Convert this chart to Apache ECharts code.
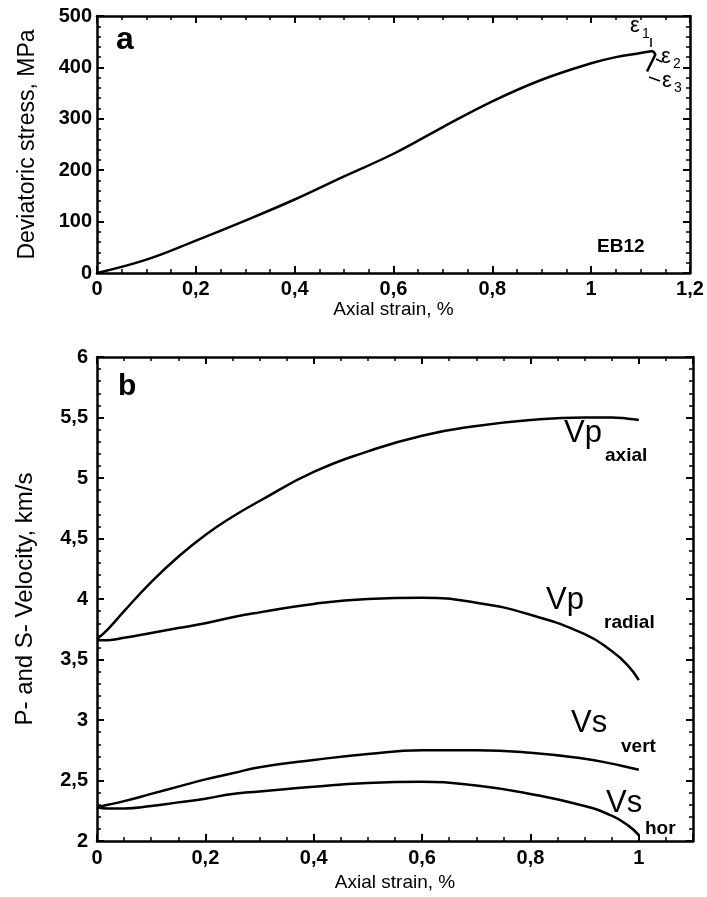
<!DOCTYPE html>
<html>
<head>
<meta charset="utf-8">
<script src="https://cdn.jsdelivr.net/npm/echarts@6/dist/echarts.min.js"></script>
<style>
  html, body { margin: 0; padding: 0; background: #fff; }
  #main { width: 707px; height: 897px; }
</style>
</head>
<body>
<div id="main"></div>
<script>
// panel a: stress-strain curve
var strainA = [0, 0.1, 0.2, 0.3, 0.4, 0.5, 0.6, 0.7, 0.8, 0.9, 1.0, 1.05, 1.1, 1.125];
var stressA = [0, 26, 63, 102, 143, 188, 232, 284, 334, 376, 408, 420, 428, 432];
// little hook after the peak
var hookStrain = [1.125, 1.13, 1.113];
var hookStress = [432, 425, 392];

// panel b: velocities
var strainB  = [0, 0.02, 0.05, 0.1, 0.15, 0.2, 0.25, 0.3, 0.4, 0.5, 0.6, 0.7, 0.8, 0.9, 0.95, 0.98, 1.0];
var vpAxial  = [3.67, 3.75, 3.90, 4.14, 4.35, 4.53, 4.68, 4.81, 5.05, 5.22, 5.35, 5.43, 5.48, 5.50, 5.50, 5.49, 5.48];
var vpRadial = [3.66, 3.66, 3.68, 3.72, 3.76, 3.80, 3.85, 3.89, 3.96, 4.00, 4.01, 3.97, 3.87, 3.71, 3.57, 3.45, 3.33];
var vsVert   = [2.28, 2.30, 2.33, 2.39, 2.45, 2.51, 2.56, 2.61, 2.67, 2.72, 2.75, 2.75, 2.73, 2.68, 2.64, 2.61, 2.59];
var vsHor    = [2.28, 2.27, 2.27, 2.29, 2.32, 2.35, 2.39, 2.41, 2.45, 2.48, 2.49, 2.46, 2.39, 2.29, 2.21, 2.13, 2.05];

function pairs(xs, ys) {
    return xs.map(function (x, i) { return [x, ys[i]]; });
}
function comma(v) {
    return String(+v.toFixed(1)).replace('.', ',');
}

var FONT = 'Liberation Sans, Arial, sans-serif';
var tickLbl = { color: '#000', fontFamily: FONT, fontWeight: 'bold', fontSize: 20 };

function axisBase(pos, min, max, interval, minorSplit, showLabel, margin, gridIndex) {
    return {
        type: 'value', gridIndex: gridIndex, position: pos,
        min: min, max: max, interval: interval,
        axisLine: { show: true, onZero: false, lineStyle: { color: '#000', width: 2.5 } },
        axisTick: { show: true, inside: true, length: 7, lineStyle: { color: '#000', width: 2 } },
        minorTick: { show: true, splitNumber: minorSplit, length: 4, lineStyle: { color: '#000', width: 1.5 } },
        splitLine: { show: false },
        axisLabel: Object.assign({ show: showLabel, margin: margin, formatter: comma }, tickLbl)
    };
}

var chart = echarts.init(document.getElementById('main'));

var xA = axisBase('bottom', 0, 1.2, 0.2, 4, true, 6, 0);
xA.name = 'Axial strain, %';
xA.nameLocation = 'middle';
xA.nameGap = 23;
xA.nameTextStyle = { color: '#000', fontFamily: FONT, fontSize: 19 };
var xAtop = axisBase('top', 0, 1.2, 0.2, 4, false, 7, 0);
var yA = axisBase('left', 0, 500, 100, 5, true, 5, 0);
yA.name = 'Deviatoric stress, MPa';
yA.nameLocation = 'middle';
yA.nameGap = 58;
yA.nameTextStyle = { color: '#000', fontFamily: FONT, fontSize: 23 };
var yAright = axisBase('right', 0, 500, 100, 5, false, 5, 0);

var xB = axisBase('bottom', 0, 1.1, 0.2, 4, true, 7, 1);
xB.axisLabel.formatter = function (v) { return v > 1.05 ? '' : comma(v); };
xB.name = 'Axial strain, %';
xB.nameLocation = 'middle';
xB.nameGap = 31;
xB.nameTextStyle = { color: '#000', fontFamily: FONT, fontSize: 19 };
var xBtop = axisBase('top', 0, 1.1, 0.2, 4, false, 7, 1);
var yB = axisBase('left', 2, 6, 0.5, 5, true, 9, 1);
yB.name = 'P- and S- Velocity, km/s';
yB.nameLocation = 'middle';
yB.nameGap = 60;
yB.nameTextStyle = { color: '#000', fontFamily: FONT, fontSize: 24 };
var yBright = axisBase('right', 2, 6, 0.5, 5, false, 9, 1);

function line(data, xi, yi, smooth) {
    return {
        type: 'line', xAxisIndex: xi, yAxisIndex: yi, data: data,
        smooth: smooth, showSymbol: false, symbol: 'none',
        lineStyle: { color: '#000', width: 2.5 }
    };
}

function txt(text, left, top, size, weight, family) {
    return {
        type: 'text', left: left, top: top,
        style: { text: text, fill: '#000', font: (weight || 'normal') + ' ' + size + 'px ' + (family || FONT) }
    };
}
function seg(x1, y1, x2, y2) {
    return { type: 'line', shape: { x1: x1, y1: y1, x2: x2, y2: y2 }, style: { stroke: '#000', lineWidth: 1.5 } };
}

chart.setOption({
    animation: false,
    backgroundColor: '#fff',
    grid: [
        { left: 97, top: 16, width: 593, height: 257 },
        { left: 97, top: 357, width: 596, height: 486 }
    ],
    xAxis: [xA, xAtop, xB, xBtop],
    yAxis: [yA, yAright, yB, yBright],
    series: [
        line(pairs(strainA, stressA), 0, 0, 0.4),
        line(pairs(hookStrain, hookStress), 0, 0, false),
        line(pairs(strainB, vpAxial), 2, 2, 0.5),
        line(pairs(strainB, vpRadial), 2, 2, 0.5),
        line(pairs(strainB, vsVert), 2, 2, 0.5),
        line(pairs(strainB, vsHor), 2, 2, 0.5)
    ],
    graphic: [
        txt('a', 116, 24, 32, 'bold'),
        txt('b', 118, 372, 30, 'bold'),
        txt('EB12', 597, 237, 19, 'bold'),
        txt('\u03b5', 630, 15, 22),
        txt('1', 642, 27, 14),
        txt('\u03b5', 661, 46, 22),
        txt('2', 673, 57, 14),
        txt('\u03b5', 662, 70, 22),
        txt('3', 674, 81, 14),
        seg(651, 38, 651, 47),
        seg(656, 59, 662, 62),
        seg(649, 77, 660, 81),
        seg(683, 68, 690, 68),
        txt('Vp', 564, 418, 31),
        txt('axial', 605, 446, 19, 'bold'),
        txt('Vp', 546, 585, 31),
        txt('radial', 604, 613, 19, 'bold'),
        txt('Vs', 571, 708, 31),
        txt('vert', 621, 737, 19, 'bold'),
        txt('Vs', 606, 788, 31),
        txt('hor', 645, 819, 19, 'bold')
    ]
});
window.addEventListener('resize', function () { chart.resize(); });
</script>
</body>
</html>
